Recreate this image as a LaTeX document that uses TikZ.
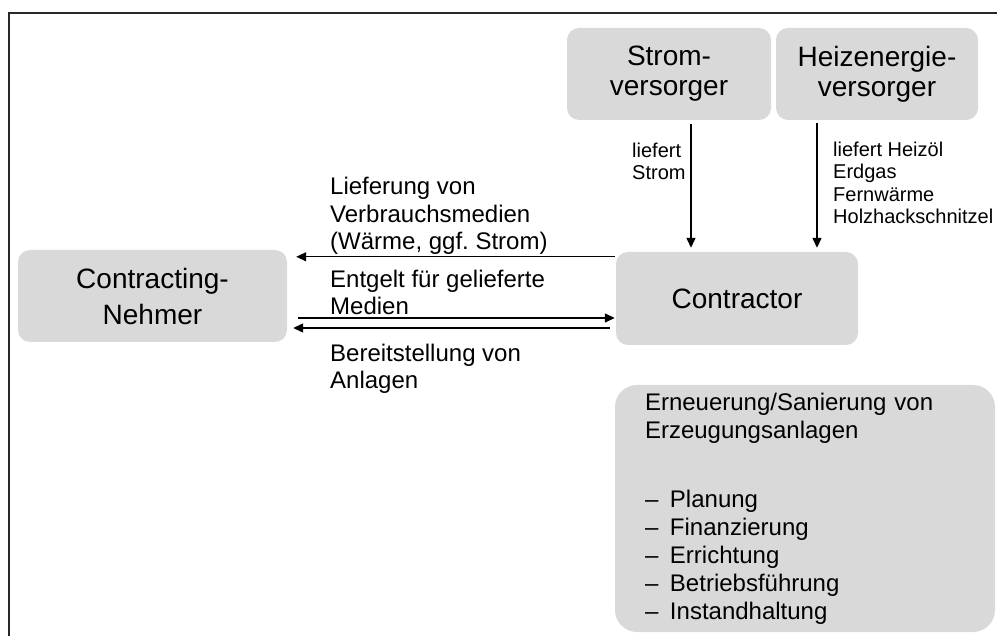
\documentclass[tikz,border=0pt]{standalone}
\usepackage{fontspec}
\setmainfont{Liberation Sans}
\definecolor{boxgray}{RGB}{217, 217, 217}
\definecolor{framegray}{RGB}{40, 40, 40}
\usetikzlibrary{arrows.meta, positioning}
\newcommand{\itemdash}{\makebox[25pt][l]{--}}

\begin{document}
\begin{tikzpicture}[x=1pt, y=-1pt,
  partybox/.style={fill=boxgray, rounded corners=12pt, align=center, inner sep=0pt, font=\fontsize{28}{30}\selectfont},
  flowlabel/.style={anchor=base west, align=left, inner sep=0pt, font=\fontsize{24}{27.5}\selectfont},
  supplylabel/.style={anchor=base west, align=left, inner sep=0pt, font=\fontsize{20}{22.5}\selectfont},
  flow/.style={-{Triangle[length=10pt, width=9pt]}, line width=1.3pt}]
  \useasboundingbox (0,0) rectangle (997,636);

  % Frame
  \draw[framegray, line width=2pt] (997,13) -- (9,13) -- (9,636);

  % Parties
  \node[partybox, minimum width=269pt, minimum height=92pt, font=\fontsize{28}{36}\selectfont] (nehmer) at (152.5,296) {Contracting-\\Nehmer};
  \node[partybox, minimum width=242pt, minimum height=93pt] (contractor) at (737,298.5) {Contractor};
  \node[partybox, minimum width=204pt, minimum height=92pt] (strom) at (669,74) {Strom-\\versorger};
  \node[partybox, minimum width=202pt, minimum height=92pt] (heiz) at (877,74) {Heizenergie-\\versorger};

  % Services of the contractor
  \node[fill=boxgray, rounded corners=22pt, align=left, text width=320pt, inner xsep=30pt, inner ysep=0pt, minimum height=247pt, font=\fontsize{24}{28}\selectfont] (services) at (805,508.5) {
    Erneuerung/Sanierung von\\
    Erzeugungsanlagen\\[41pt]
    \itemdash Planung\\
    \itemdash Finanzierung\\
    \itemdash Errichtung\\
    \itemdash Betriebsführung\\
    \itemdash Instandhaltung
  };

  % Supply arrows
  \draw[flow, shorten >=4pt] ([xshift=22pt, yshift=-4pt]strom.south) -- ([xshift=22pt]strom.south |- contractor.north);
  \draw[flow, shorten >=4pt] ([xshift=-60pt, yshift=-3pt]heiz.south) -- ([xshift=-60pt]heiz.south |- contractor.north);
  \node[supplylabel] (lblstrom) at (632,180) {liefert\\Strom};
  \node[supplylabel] (lblheiz) at (833,224) {liefert Heizöl\\Erdgas\\Fernwärme\\Holzhackschnitzel};

  % Exchange between contractor and customer
  \draw[flow, shorten >=9pt] ([xshift=-1pt, yshift=-5pt]contractor.north west) -- ([yshift=-5pt]contractor.north west -| nehmer.east);
  \draw[flow, shorten >=1pt] ([xshift=11pt, yshift=-22pt]nehmer.east) -- ([yshift=-22pt]nehmer.east -| contractor.west);
  \draw[flow, shorten >=6pt] ([xshift=-6pt, yshift=-29.5pt]contractor.west) -- ([yshift=-29.5pt]contractor.west -| nehmer.east);
  \node[flowlabel] (lblmedien) at (330,250) {Lieferung von\\Verbrauchsmedien\\(Wärme, ggf.\ Strom)};
  \node[flowlabel] (lblentgelt) at (330,315) {Entgelt für gelieferte\\Medien};
  \node[flowlabel] (lblanlagen) at (330,389) {Bereitstellung von\\Anlagen};
\end{tikzpicture}
\end{document}
